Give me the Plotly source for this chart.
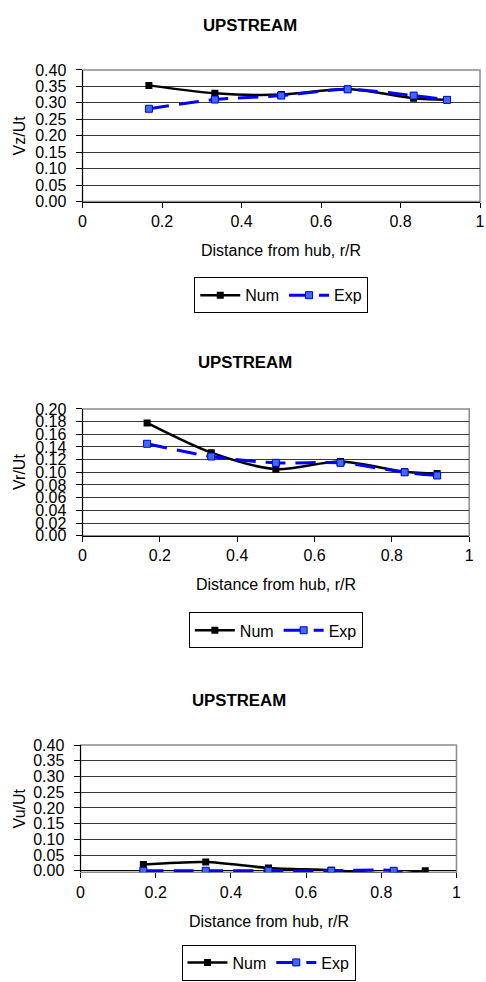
import plotly.graph_objects as go

# ---- data ----
r_over_R = [0.167, 0.333, 0.5, 0.667, 0.833, 0.917]

vz_num = [0.353, 0.329, 0.325, 0.342, 0.314, 0.309]
vz_exp = [0.282, 0.310, 0.322, 0.341, 0.322, 0.309]

vr_num = [0.178, 0.131, 0.105, 0.117, 0.101, 0.098]
vr_exp = [0.145, 0.125, 0.115, 0.115, 0.100, 0.095]

vu_num = [0.020, 0.028, 0.009, 0.002, -0.010, 0.000]
vu_exp = [0.000, 0.000, 0.000, 0.000, 0.000, -0.030]

panel_titles = ["UPSTREAM", "UPSTREAM", "UPSTREAM"]
y_titles = ["Vz/Ut", "Vr/Ut", "Vu/Ut"]
x_title = "Distance from hub, r/R"
series_names = ["Num", "Exp"]

x_tickvals = [0, 0.2, 0.4, 0.6, 0.8, 1.0]
x_ticktext = ["0", "0.2", "0.4", "0.6", "0.8", "1"]
y_ranges = [[0, 0.40], [0, 0.20], [-0.005, 0.40]]
y_dticks = [0.05, 0.02, 0.05]

# ---- layout geometry (pixels in a 486x982 page) ----
W, H = 486, 982
FONT = "Liberation Sans, Arial, sans-serif"
FS = 16


def px(x):
    return x / W


def py(y):
    return 1 - y / H


panels = [
    # left, right, top, bottom, title_x, title_y, legend_top
    dict(l=80, r=485, t=63, b=197, tx=251, ty=18, lt=274),
    dict(l=80, r=474, t=408, b=537, tx=246, ty=361, lt=615),
    dict(l=78, r=461, t=750, b=879.6, tx=239, ty=705, lt=953),
]

num_sets = [vz_num, vr_num, vu_num]
exp_sets = [vz_exp, vr_exp, vu_exp]

fig = go.Figure()
annotations = []
shapes = []
layout_axes = {}

for i, p in enumerate(panels):
    n = "" if i == 0 else str(i + 1)
    xa, ya = "x" + n, "y" + n
    leg = "legend" + n
    below_zero = y_ranges[i][0] < 0
    fig.add_trace(go.Scatter(
        x=r_over_R, y=num_sets[i], name=series_names[0], mode="lines+markers",
        xaxis=xa, yaxis=ya, legend=leg,
        line=dict(color="black", width=2.5, shape="spline", smoothing=0.8),
        marker=dict(symbol="square", size=7, color="black"),
    ))
    fig.add_trace(go.Scatter(
        x=r_over_R, y=exp_sets[i], name=series_names[1], mode="lines+markers",
        xaxis=xa, yaxis=ya, legend=leg,
        line=dict(color="#0000FF", width=3, dash="20px,10px", shape="spline", smoothing=0.8),
        marker=dict(symbol="square", size=7, color="#3D6BFF",
                    line=dict(color="#0000CC", width=1)),
    ))
    layout_axes["xaxis" + n] = dict(
        domain=[px(p["l"]), px(p["r"])], anchor=ya, range=[0, 1],
        tickvals=x_tickvals, ticktext=x_ticktext,
        showgrid=False, zeroline=False, showline=not below_zero,
        linecolor="black", linewidth=1,
        ticks="outside", ticklen=5, tickcolor="black",
        tickfont=dict(family=FONT, size=FS, color="black"),
    )
    layout_axes["yaxis" + n] = dict(
        domain=[py(p["b"]), py(p["t"])], anchor=xa, range=y_ranges[i],
        dtick=y_dticks[i], tick0=0, tickformat=".2f",
        showgrid=True, gridcolor="#3a3a3a", gridwidth=1,
        zeroline=below_zero, zerolinecolor="black", zerolinewidth=1,
        showline=True, linecolor="black", linewidth=1,
        ticks="outside", ticklen=6, tickcolor="black", ticklabelstandoff=6,
        tickfont=dict(family=FONT, size=FS, color="black"),
    )
    layout_axes[leg] = dict(
        orientation="h", x=px((p["l"] + p["r"]) / 2), xanchor="center",
        y=py(p["lt"]), yanchor="top", bordercolor="black", borderwidth=1,
        bgcolor="white", font=dict(family=FONT, size=FS, color="black"),
        itemwidth=40, tracegroupgap=0,
    )
    # gray plot-area frame (top/right)
    shapes.append(dict(type="rect", xref=xa + " domain", yref=ya + " domain",
                       x0=0, x1=1, y0=0, y1=1, line=dict(color="#8c8c8c", width=1.5),
                       layer="below"))
    annotations.append(dict(text="<b>" + panel_titles[i] + "</b>", x=px(p["tx"]), y=py(p["ty"]),
                            xref="paper", yref="paper", showarrow=False,
                            font=dict(family=FONT, size=16.8, color="black"),
                            xanchor="center", yanchor="middle"))
    annotations.append(dict(text=x_title, x=px((p["l"] + p["r"]) / 2), y=py(p["b"] + 50),
                            xref="paper", yref="paper", showarrow=False,
                            font=dict(family=FONT, size=FS, color="black"),
                            xanchor="center", yanchor="middle"))
    annotations.append(dict(text=y_titles[i], x=px(16), y=py((p["t"] + p["b"]) / 2),
                            xref="paper", yref="paper", showarrow=False, textangle=-90,
                            font=dict(family=FONT, size=FS, color="black"),
                            xanchor="center", yanchor="middle"))

fig.update_layout(
    width=W, height=H, margin=dict(l=0, r=0, t=0, b=0),
    paper_bgcolor="white", plot_bgcolor="white",
    showlegend=True, annotations=annotations, shapes=shapes,
    **layout_axes,
)

fig.write_html(
    "out.html",
    config={"displayModeBar": False},
    post_script="document.body.style.margin='0';document.body.style.overflow='hidden';",
)
